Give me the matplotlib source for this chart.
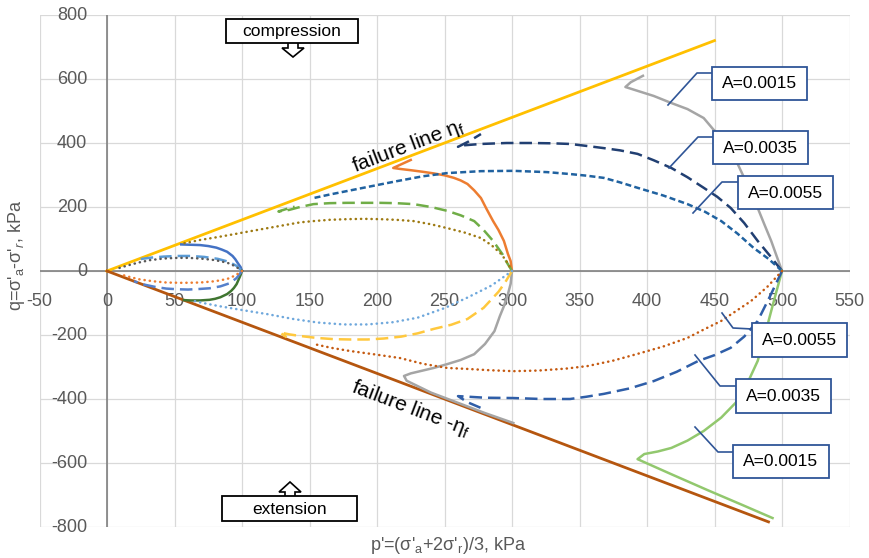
import matplotlib
matplotlib.use('Agg')
import matplotlib.pyplot as plt
from matplotlib.patches import Rectangle, Polygon
from matplotlib.lines import Line2D

plt.rcParams['font.family'] = ['Liberation Sans', 'DejaVu Sans']
plt.rcParams['mathtext.fontset'] = 'custom'
plt.rcParams['mathtext.rm'] = 'Liberation Sans'
plt.rcParams['mathtext.it'] = 'Liberation Sans:italic'

# ---------------- data ----------------
x_ticks = [-50, 0, 50, 100, 150, 200, 250, 300, 350, 400, 450, 500, 550]
y_ticks = [-800, -600, -400, -200, 0, 200, 400, 600, 800]

fail_c_p = [0, 450]
fail_c_q = [0, 720]
fail_e_p = [0, 490]
fail_e_q = [0, -784]

# p0 = 100, compression
c100_a15_p = [100, 99, 97, 95, 93, 89, 85, 81, 75, 69, 62, 55]
c100_a15_q = [0, 12, 24, 37, 47, 60, 67, 73, 78, 81, 82, 83]
c100_a35_p = [100, 96, 90, 82, 72, 62, 52, 42, 33, 26, 22]
c100_a35_q = [0, 16, 29, 38, 44, 47, 47, 45, 42, 38, 35]
c100_a55_p = [100, 95, 89, 80, 69, 60, 52, 42, 32, 23, 15, 8]
c100_a55_q = [0, 15, 26, 34, 39, 41, 41, 39, 34, 26, 17, 8]
# p0 = 100, extension
e100_a15_p = [100, 99, 98, 96, 94, 92, 89, 84, 80, 76, 69, 62, 57]
e100_a15_q = [0, -12, -22, -41, -53, -62, -72, -82, -87, -90, -92, -92, -91]
e100_a35_p = [100, 96, 91, 84, 76, 69, 60, 52, 44, 36, 27, 20]
e100_a35_q = [0, -22, -38, -48, -54, -56, -58, -57, -55, -50, -42, -32]
e100_a55_p = [100, 95, 89, 80, 69, 56, 44, 34, 24, 17, 12]
e100_a55_q = [0, -14, -25, -32, -36, -37, -36, -32, -26, -19, -13]

# p0 = 300, compression
c300_a15_p = [300, 299, 297, 294, 290, 286, 281, 277, 272, 267, 262, 257, 250, 242, 234, 225, 217, 212, 225]
c300_a15_q = [0, 31, 53, 94, 128, 156, 195, 228, 252, 272, 283, 291, 299, 305, 310, 315, 319, 322, 347]
c300_a35_p = [300, 296, 293, 286, 279, 272, 262, 252, 240, 227, 214, 202, 190, 178, 165, 153, 143, 135, 127, 133, 139]
c300_a35_q = [0, 28, 52, 94, 128, 156, 174, 188, 200, 209, 212, 213, 213, 213, 212, 209, 200, 191, 186, 194, 201]
c300_a55_p = [300, 296, 292, 285, 277, 265, 252, 240, 227, 214, 202, 190, 178, 165, 153, 143, 131, 119, 107, 94, 82, 69, 60, 54]
c300_a55_q = [0, 30, 53, 80, 103, 120, 134, 146, 156, 160, 162, 163, 162, 160, 156, 152, 143, 134, 125, 115, 106, 97, 89, 85]
# p0 = 300, extension
e300_a15_p = [300, 299, 297, 294, 291, 287, 280, 272, 262, 252, 242, 232, 225, 220, 222, 240, 260, 280, 301]
e300_a15_q = [0, -40, -72, -110, -141, -188, -228, -260, -278, -291, -303, -313, -320, -328, -343, -380, -412, -444, -475]
e300_a35_p = [300, 295, 290, 279, 267, 255, 242, 230, 218, 205, 193, 180, 168, 155, 143, 135, 128, 133]
e300_a35_q = [0, -35, -65, -115, -150, -168, -181, -195, -205, -211, -214, -214, -213, -209, -203, -198, -192, -207]
e300_a55_p = [300, 285, 267, 250, 230, 212, 193, 175, 156, 138, 119, 100, 82, 70, 62]
e300_a55_q = [0, -45, -83, -116, -146, -160, -167, -167, -161, -150, -135, -122, -109, -99, -91]

# p0 = 500, compression
c500_a15_p = [500, 496, 492, 487, 482, 477, 472, 466, 460, 449, 442, 430, 418, 405, 393, 384, 388, 397]
c500_a15_q = [0, 47, 94, 145, 197, 245, 291, 345, 397, 443, 478, 506, 525, 547, 563, 575, 590, 610]
c500_a35_p = [500, 491, 482, 472, 462, 452, 442, 430, 418, 405, 393, 380, 368, 355, 343, 330, 314, 296, 277, 265, 260, 268, 277]
c500_a35_q = [0, 48, 94, 150, 197, 232, 260, 293, 322, 346, 366, 377, 384, 391, 397, 399, 400, 400, 397, 393, 388, 405, 428]
c500_a55_p = [500, 490, 479, 467, 455, 443, 430, 412, 393, 380, 368, 355, 343, 326, 301, 277, 252, 234, 215, 197, 178, 165, 153]
c500_a55_q = [0, 38, 72, 117, 156, 185, 209, 236, 260, 277, 291, 298, 303, 309, 313, 312, 306, 296, 281, 266, 250, 239, 228]
# p0 = 500, extension
e500_a15_p = [500, 496, 492, 487, 482, 475, 467, 455, 442, 430, 418, 408, 398, 393, 418, 445, 470, 493]
e500_a15_q = [0, -62, -125, -205, -281, -345, -406, -458, -500, -530, -553, -564, -572, -588, -635, -685, -730, -772]
e500_a35_p = [500, 491, 482, 472, 462, 450, 438, 422, 405, 387, 368, 355, 343, 322, 301, 280, 260, 267, 277]
e500_a35_q = [0, -80, -156, -205, -240, -263, -281, -315, -344, -367, -384, -393, -400, -400, -397, -396, -391, -410, -428]
e500_a55_p = [500, 489, 477, 466, 455, 442, 430, 412, 393, 375, 356, 340, 320, 301, 283, 267, 252, 234, 217, 199, 180, 166, 153]
e500_a55_q = [0, -50, -94, -125, -156, -183, -209, -236, -259, -280, -297, -305, -311, -313, -310, -306, -303, -290, -272, -261, -250, -240, -228]

box_labels = ['A=0.0015', 'A=0.0035', 'A=0.0055']

# ---------------- figure ----------------
W, H = 869, 558
fig = plt.figure(figsize=(W / 100, H / 100), dpi=100)
fig.patch.set_facecolor('white')
ax = fig.add_axes([39.5 / W, 1 - 527 / H, (849.5 - 39.5) / W, (527 - 15) / H])
ax.set_xlim(-50, 550)
ax.set_ylim(-800, 800)
ax.set_xticks(x_ticks)
ax.set_yticks(y_ticks)
ax.tick_params(length=0, labelbottom=False, labelleft=False)
for s in ax.spines.values():
    s.set_visible(False)
ax.grid(True, color='#D9D9D9', lw=0.9, zorder=0)
ax.set_axisbelow(True)
ax.axhline(0, color='#808080', lw=1.2, zorder=1)
ax.axvline(0, color='#808080', lw=1.2, zorder=1)

tick_col = '#595959'
for x in x_ticks:
    ax.text(x, -94, str(x), ha='center', va='center', fontsize=13, color=tick_col, zorder=2)
for y in y_ticks:
    ax.text(-14.8, y, str(y), ha='right', va='center', fontsize=13, color=tick_col, zorder=2)

SOLID = dict(ls='-', lw=1.8, solid_joinstyle='round')
LDASH = dict(ls=(0, (5, 2.4)), lw=1.8)
DOT = dict(ls=(0, (0.1, 2.0)), lw=1.8, dash_capstyle='round')
SDASH = dict(ls=(0, (2.4, 1.3)), lw=1.8)

ax.plot(fail_c_p, fail_c_q, color='#FFC000', lw=2.0, zorder=3)
ax.plot(fail_e_p, fail_e_q, color='#B5560F', lw=2.0, zorder=3)

curves = [
    (c100_a15_p, c100_a15_q, '#4472C4', SOLID),
    (c100_a35_p, c100_a35_q, '#5B9BD5', LDASH),
    (c100_a55_p, c100_a55_q, '#595959', DOT),
    (e100_a15_p, e100_a15_q, '#3F7530', SOLID),
    (e100_a35_p, e100_a35_q, '#5580CC', LDASH),
    (e100_a55_p, e100_a55_q, '#ED7D31', DOT),
    (c300_a15_p, c300_a15_q, '#ED7D31', SOLID),
    (c300_a35_p, c300_a35_q, '#70AD47', LDASH),
    (c300_a55_p, c300_a55_q, '#9E7A12', DOT),
    (e300_a15_p, e300_a15_q, '#A5A5A5', SOLID),
    (e300_a35_p, e300_a35_q, '#FFC83D', LDASH),
    (e300_a55_p, e300_a55_q, '#6FA8DC', DOT),
    (c500_a15_p, c500_a15_q, '#A5A5A5', SOLID),
    (c500_a35_p, c500_a35_q, '#213F72', LDASH),
    (c500_a55_p, c500_a55_q, '#2062A0', SDASH),
    (e500_a15_p, e500_a15_q, '#92C86E', SOLID),
    (e500_a35_p, e500_a35_q, '#2F5EA8', LDASH),
    (e500_a55_p, e500_a55_q, '#C55A11', DOT),
]
for p, q, col, st in curves:
    ax.plot(p, q, color=col, zorder=4, **st)

# ---------------- annotations (figure pixel layout) ----------------
def fx(x):
    return x / W


def fy(y):
    return 1 - y / H


def box(x0, y0, x1, y1, text, ec, fs, lw=1.3):
    fig.add_artist(Rectangle((fx(x0), fy(y1)), fx(x1) - fx(x0), fy(y0) - fy(y1),
                             transform=fig.transFigure, fc='white', ec=ec, lw=lw, zorder=10))
    fig.text(fx((x0 + x1) / 2), fy((y0 + y1) / 2 + 0.5), text, ha='center', va='center',
             fontsize=fs, color='black', zorder=11)


def leader(pts, col='#2F5597'):
    fig.add_artist(Line2D([fx(a) for a, b in pts], [fy(b) for a, b in pts],
                          transform=fig.transFigure, color=col, lw=1.2, zorder=9))


def arrow(pts):
    fig.add_artist(Polygon([(fx(a), fy(b)) for a, b in pts], closed=True,
                           transform=fig.transFigure, fc='white', ec='black', lw=1.2, zorder=9))


# compression / extension boxes
arrow([(288, 42), (298, 42), (298, 48), (304, 48), (293, 57), (282, 48), (288, 48)])
box(226, 19, 358, 43, 'compression', 'black', 12.5)
arrow([(285, 497), (295, 497), (295, 492), (301, 492), (290, 482), (279, 492), (285, 492)])
box(222, 496, 357, 521, 'extension', 'black', 12.5)

bc = '#2F5597'
# top right
leader([(668, 105), (697, 73), (712, 73)])
box(712, 67, 807, 100, box_labels[0], bc, 12.5)
leader([(669, 168), (698, 137), (713, 137)])
box(713, 131, 808, 164, box_labels[1], bc, 12.5)
leader([(693, 213), (722, 182), (738, 182)])
box(738, 176, 833, 209, box_labels[2], bc, 12.5)
# bottom right
leader([(722, 313), (733, 328), (752, 329)])
box(752, 323, 847, 357, box_labels[2], bc, 12.5)
leader([(695, 355), (720, 386), (736, 386)])
box(736, 379, 831, 413, box_labels[1], bc, 12.5)
leader([(695, 427), (718, 452), (733, 452)])
box(733, 445, 829, 478, box_labels[0], bc, 12.5)

# failure line labels
fig.text(fx(408), fy(146), 'failure line η$_\\mathrm{f}$', rotation=20.8, ha='center', va='center',
         rotation_mode='anchor', fontsize=15, color='black', zorder=11)
fig.text(fx(411), fy(409), 'failure line -η$_\\mathrm{f}$', rotation=-20.8, ha='center', va='center',
         rotation_mode='anchor', fontsize=15, color='black', zorder=11)

# axis titles
fig.text(fx(17), fy(255), "q=σ'$_\\mathrm{a}$-σ'$_{r}$, kPa", rotation=90, ha='center', va='center',
         fontsize=13, color=tick_col)
fig.text(fx(448), fy(546), "p'=(σ'$_\\mathrm{a}$+2σ'$_\\mathrm{r}$)/3, kPa", ha='center', va='center',
         fontsize=13, color=tick_col)

fig.savefig('out.png', dpi=100, facecolor='white')
